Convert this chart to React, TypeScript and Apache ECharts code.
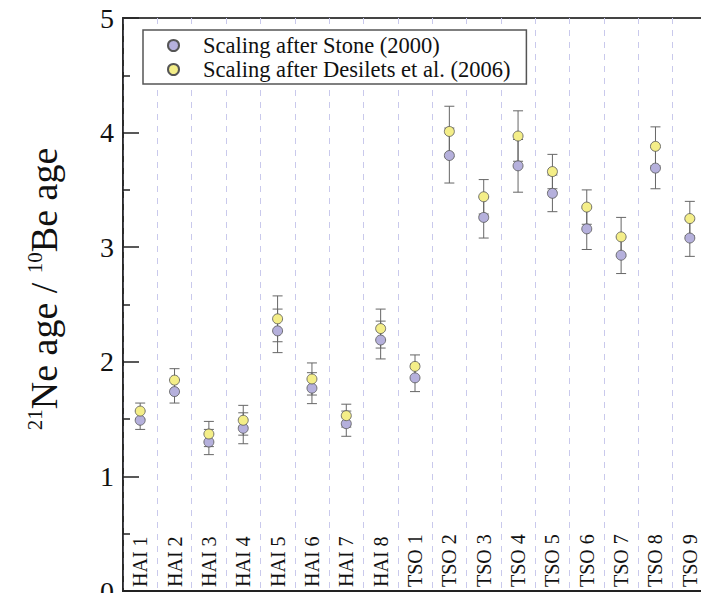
import React, { useEffect, useRef } from 'react';
import * as echarts from 'echarts';

const categories = [
  'HAI 1', 'HAI 2', 'HAI 3', 'HAI 4', 'HAI 5', 'HAI 6', 'HAI 7', 'HAI 8',
  'TSO 1', 'TSO 2', 'TSO 3', 'TSO 4', 'TSO 5', 'TSO 6', 'TSO 7', 'TSO 8', 'TSO 9',
];
const stoneName = 'Scaling after Stone (2000)';
const desiletsName = 'Scaling after Desilets et al. (2006)';
const stoneRatio = [1.49, 1.74, 1.30, 1.42, 2.27, 1.77, 1.46, 2.19, 1.86, 3.80, 3.26, 3.71, 3.47, 3.16, 2.93, 3.69, 3.08];
const stoneErr = [0.08, 0.10, 0.11, 0.135, 0.19, 0.135, 0.11, 0.165, 0.12, 0.24, 0.18, 0.23, 0.16, 0.18, 0.16, 0.18, 0.16];
const desiletsRatio = [1.57, 1.84, 1.37, 1.49, 2.375, 1.85, 1.53, 2.29, 1.96, 4.01, 3.44, 3.97, 3.66, 3.35, 3.09, 3.88, 3.25];
const desiletsErr = [0.07, 0.10, 0.11, 0.13, 0.20, 0.14, 0.10, 0.17, 0.10, 0.22, 0.15, 0.22, 0.15, 0.15, 0.17, 0.17, 0.15];
const yMin = 0;
const yMax = 5;
const yInterval = 1;

const FONT = 'Liberation Serif';

function errSeries(name: string, vals: number[], errs: number[]) {
  return {
    type: 'custom',
    name: name + ' error',
    z: 1,
    silent: true,
    data: vals.map((v, i) => [i, v, errs[i]]),
    encode: { x: 0, y: 1 },
    renderItem: (_params: any, api: any) => {
      const x = api.value(0);
      const v = api.value(1);
      const e = api.value(2);
      const top = api.coord([x, v + e]);
      const bot = api.coord([x, v - e]);
      const hw = 5;
      const style = { stroke: '#666', lineWidth: 1 };
      return {
        type: 'group',
        children: [
          { type: 'line', shape: { x1: top[0], y1: top[1], x2: bot[0], y2: bot[1] }, style },
          { type: 'line', shape: { x1: top[0] - hw, y1: top[1], x2: top[0] + hw, y2: top[1] }, style },
          { type: 'line', shape: { x1: bot[0] - hw, y1: bot[1], x2: bot[0] + hw, y2: bot[1] }, style },
        ],
      };
    },
  };
}

export default function App() {
  const ref = useRef<HTMLDivElement>(null);
  useEffect(() => {
    const chart = echarts.init(ref.current!, null, { renderer: 'svg' });
    chart.setOption({
      animation: false,
      backgroundColor: '#fff',
      textStyle: { fontFamily: FONT },
      grid: {
        left: 123, right: -6, top: 18, bottom: 2,
        outerBoundsMode: 'none',
        containLabel: false,
        show: true, borderColor: '#444', borderWidth: 2, backgroundColor: 'transparent',
      },
      legend: {
        orient: 'vertical',
        left: 143,
        top: 30,
        data: [stoneName, desiletsName],
        icon: 'circle',
        itemWidth: 11,
        itemHeight: 11,
        itemGap: 1,
        padding: [4, 16, 3, 24],
        borderColor: '#555',
        borderWidth: 1.5,
        backgroundColor: '#fff',
        textStyle: { fontFamily: FONT, fontSize: 22.5, color: '#111', padding: [0, 0, 0, 19] },
      },
      xAxis: {
        type: 'category',
        data: categories,
        boundaryGap: true,
        axisLine: { lineStyle: { color: '#222', width: 2 } },
        axisTick: { show: false },
        axisLabel: { inside: true, rotate: 90, interval: 0, fontFamily: FONT, fontSize: 20, color: '#111', margin: 4 },
        splitLine: { show: true, interval: 0, lineStyle: { color: '#c9c9ec', type: [6, 6], width: 1 } },
      },
      yAxis: {
        type: 'value',
        min: yMin,
        max: yMax,
        interval: yInterval,
        axisLine: { show: true, lineStyle: { color: '#222', width: 1.5 } },
        axisTick: { show: true, inside: true, length: 16, lineStyle: { color: '#222', width: 1.5 } },
        minorTick: { show: true, splitNumber: 2, length: 7, lineStyle: { color: '#222', width: 1.5 } },
        axisLabel: { fontFamily: FONT, fontSize: 28, color: '#111', margin: 9 },
        splitLine: { show: false },
      },
      graphic: [
        {
          type: 'text',
          x: 44,
          y: 289,
          rotation: Math.PI / 2,
          style: {
            text: '{sup|21}{b|Ne age / }{sup|10}{b|Be age}',
            align: 'center',
            verticalAlign: 'middle',
            textAlign: 'center',
            textVerticalAlign: 'middle',
            fill: '#111',
            fontFamily: FONT,
            fontSize: 38,
            rich: {
              b: { fontFamily: FONT, fontSize: 38, fill: '#111' },
              sup: { fontFamily: FONT, fontSize: 21, fill: '#111', padding: [0, 0, 19, 0] },
            },
          },
        },
      ],
      series: [
        errSeries(stoneName, stoneRatio, stoneErr),
        errSeries(desiletsName, desiletsRatio, desiletsErr),
        {
          type: 'scatter',
          name: stoneName,
          z: 3,
          symbol: 'circle',
          symbolSize: 10,
          data: stoneRatio.map((v, i) => [i, v]),
          itemStyle: { color: '#b5b0dc', borderColor: '#555', borderWidth: 0.8, opacity: 1 },
        },
        {
          type: 'scatter',
          name: desiletsName,
          z: 4,
          symbol: 'circle',
          symbolSize: 10,
          data: desiletsRatio.map((v, i) => [i, v]),
          itemStyle: { color: '#f4ee88', borderColor: '#555', borderWidth: 0.8, opacity: 1 },
        },
      ],
    });
    return () => chart.dispose();
  }, []);
  return <div ref={ref} style={{ position: 'fixed', left: 0, top: 0, width: 701, height: 593 }} />;
}
